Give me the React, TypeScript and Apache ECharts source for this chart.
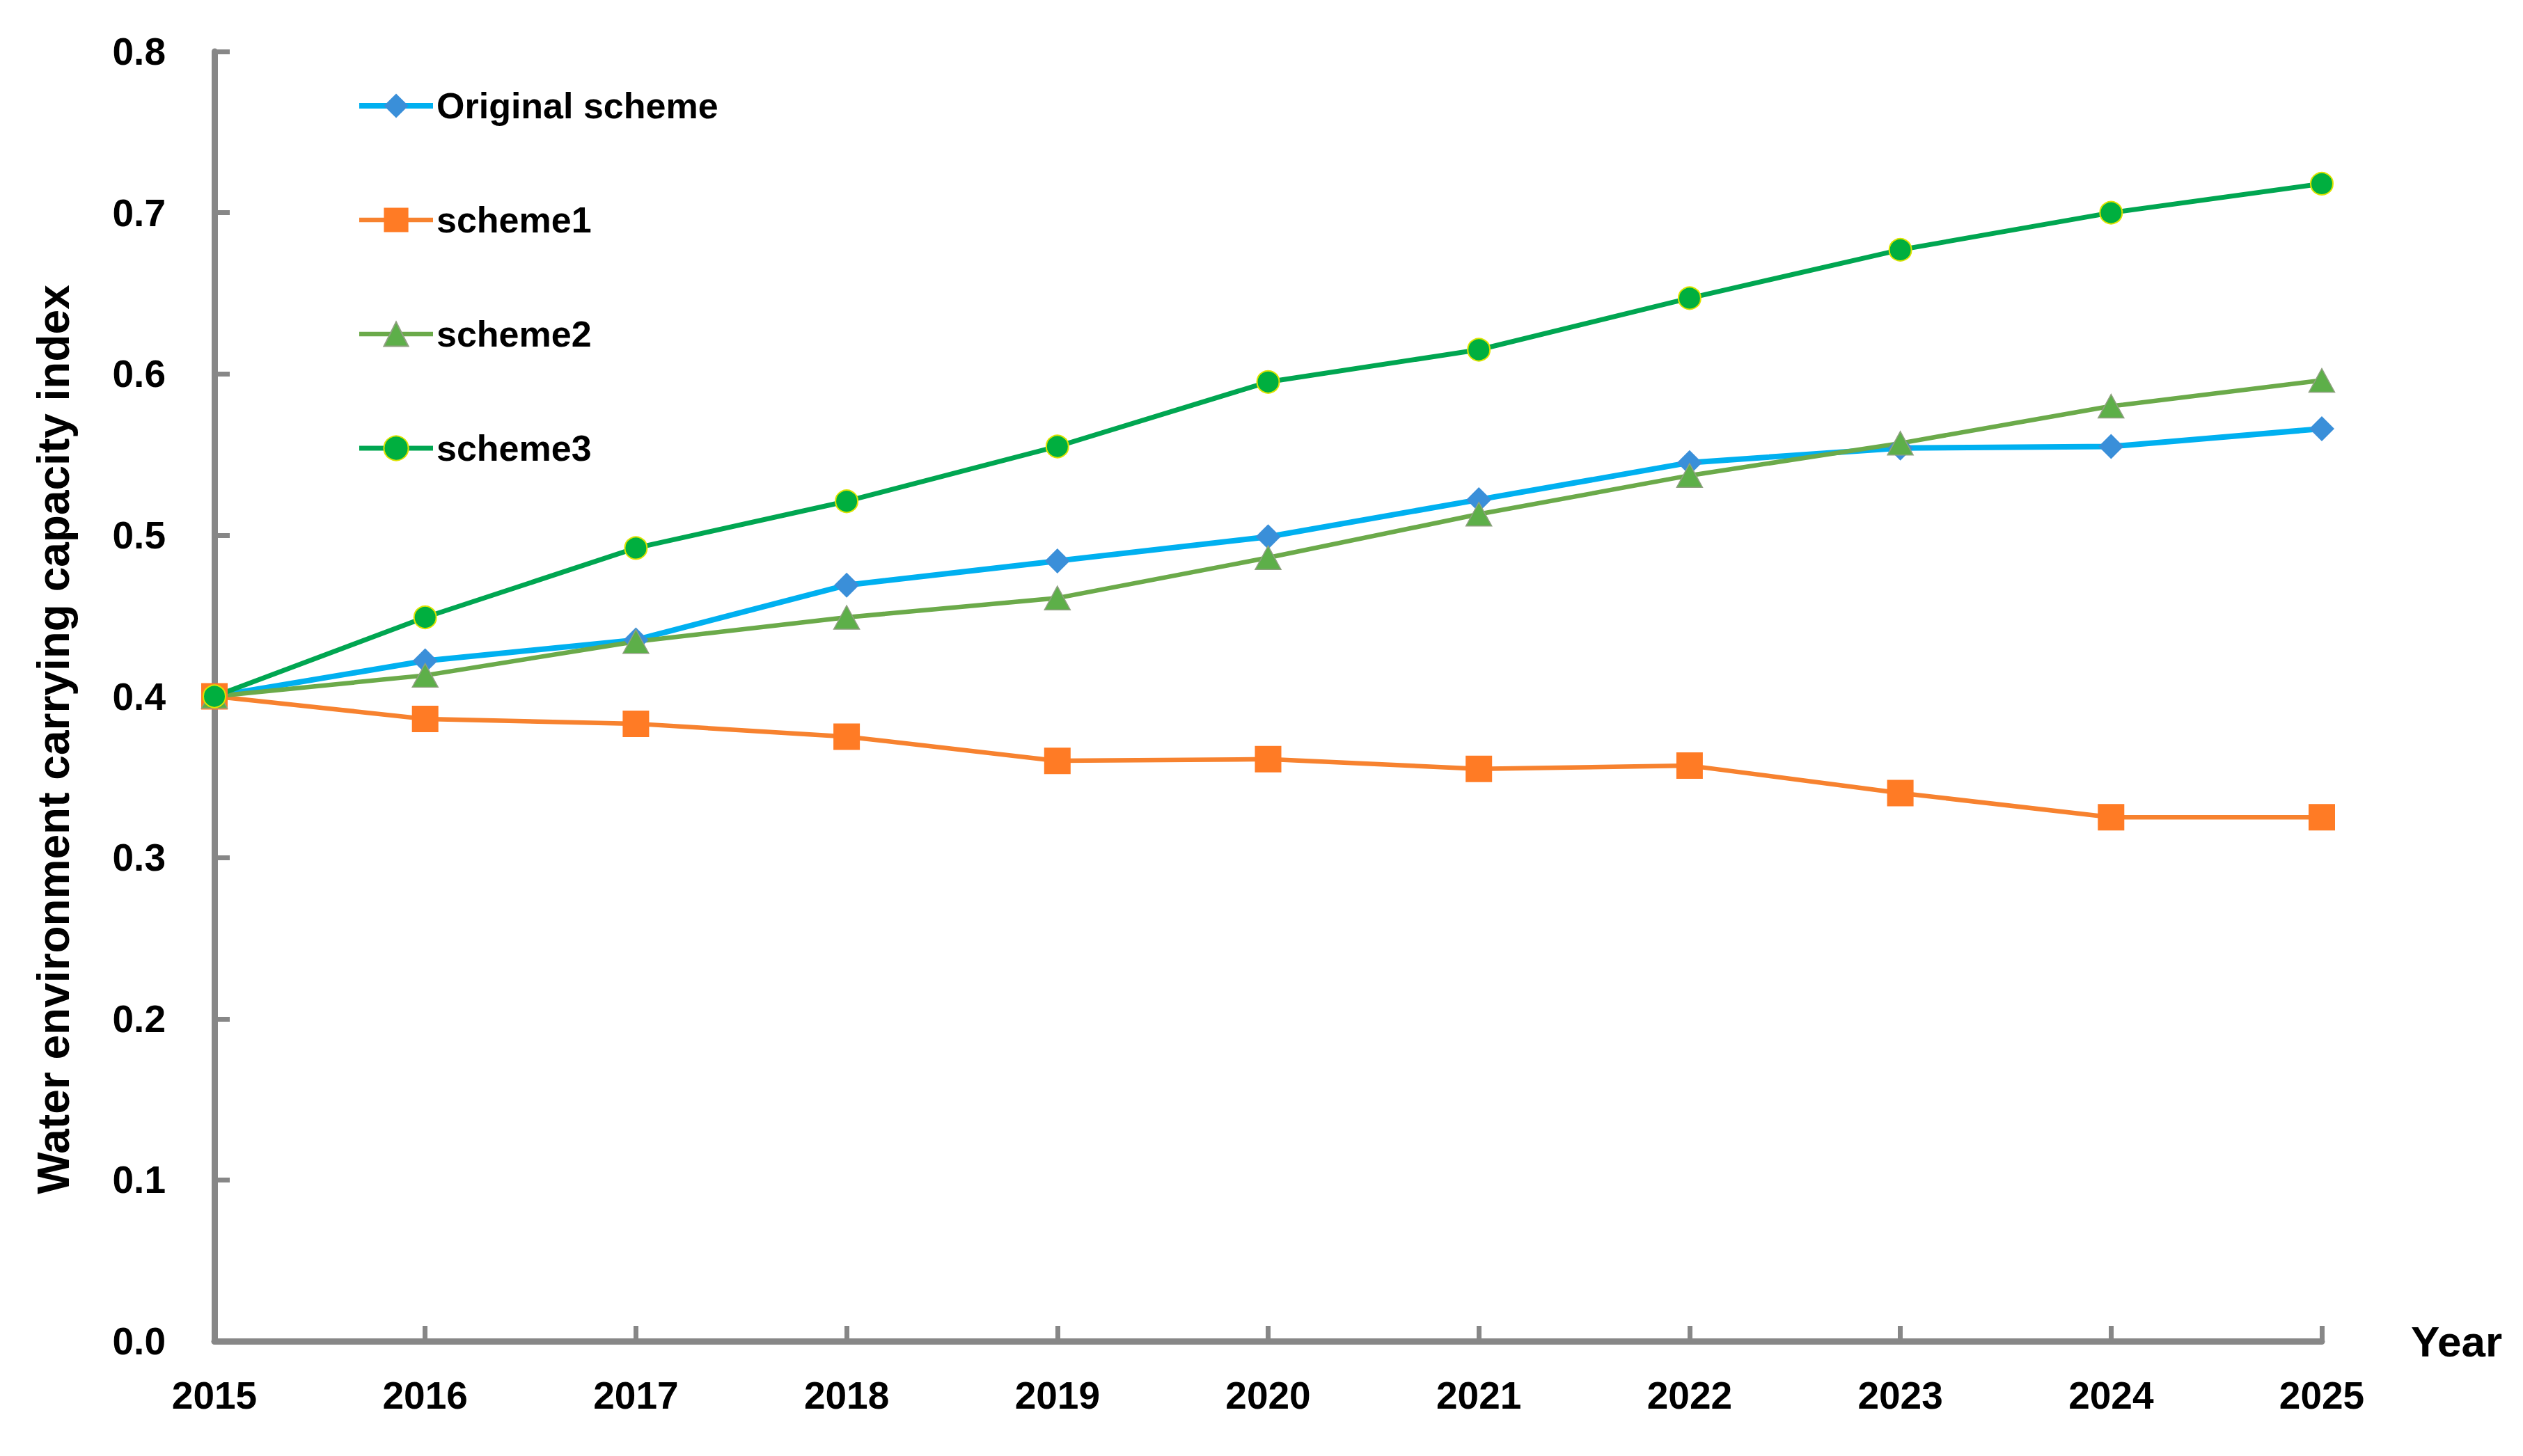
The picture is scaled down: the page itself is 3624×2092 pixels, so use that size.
import React, { useEffect, useRef } from "react";
import * as echarts from "echarts";

const years = ["2015", "2016", "2017", "2018", "2019", "2020", "2021", "2022", "2023", "2024", "2025"];
const originalScheme = [0.400, 0.422, 0.435, 0.469, 0.484, 0.499, 0.522, 0.545, 0.554, 0.555, 0.566];
const scheme1 = [0.400, 0.386, 0.383, 0.375, 0.360, 0.361, 0.355, 0.357, 0.340, 0.325, 0.325];
const scheme2 = [0.400, 0.413, 0.434, 0.449, 0.461, 0.486, 0.513, 0.537, 0.557, 0.580, 0.596];
const scheme3 = [0.400, 0.449, 0.492, 0.521, 0.555, 0.595, 0.615, 0.647, 0.677, 0.700, 0.718];
const seriesNames = ["Original scheme", "scheme1", "scheme2", "scheme3"];

const FONT = "Liberation Sans, Arial, sans-serif";
const AXIS_COLOR = "#878787";
const LINE_COLORS = ["#00B0F0", "#F7822F", "#6BAA4A", "#00A651"];
const LINE_WIDTHS = [8, 6.5, 6.5, 7];

export default function App() {
  const ref = useRef<HTMLDivElement>(null);

  useEffect(() => {
    if (!ref.current) return;
    const chart = echarts.init(ref.current, null, { renderer: "svg" });
    const option = {
      animation: false,
      backgroundColor: "#ffffff",
      grid: { left: 308, right: 289, top: 74, bottom: 165, containLabel: false },
      legend: {
        orient: "vertical",
        left: 507,
        top: 117,
        itemWidth: 106,
        itemHeight: 44,
        itemGap: 104,
        data: seriesNames.map((n, i) => ({
          name: n,
          lineStyle: { width: LINE_WIDTHS[i], color: LINE_COLORS[i] },
        })),
        textStyle: { fontFamily: FONT, fontWeight: "bold", fontSize: 52, color: "#000", lineHeight: 60 },
      },
      xAxis: {
        type: "category",
        data: years,
        boundaryGap: false,
        name: "Year",
        nameLocation: "end",
        nameGap: 128,
        nameTextStyle: { fontFamily: FONT, fontWeight: "bold", fontSize: 62, color: "#000", padding: [0, 0, 14, 0] },
        axisLine: { lineStyle: { color: AXIS_COLOR, width: 9 } },
        axisTick: { show: true, inside: true, length: 22, alignWithLabel: true, lineStyle: { color: AXIS_COLOR, width: 7 } },
        axisLabel: { interval: 0, margin: 50, fontFamily: FONT, fontWeight: "bold", fontSize: 55, color: "#000" },
        splitLine: { show: false },
      },
      yAxis: {
        type: "value",
        min: 0,
        max: 0.8,
        interval: 0.1,
        name: "Water environment carrying capacity index",
        nameLocation: "middle",
        nameRotate: 90,
        nameGap: 199,
        nameTextStyle: { fontFamily: FONT, fontWeight: "bold", fontSize: 64, color: "#000", padding: [0, 124, 0, 0] },
        axisLine: { show: true, lineStyle: { color: AXIS_COLOR, width: 9 } },
        axisTick: { show: true, inside: true, length: 22, lineStyle: { color: AXIS_COLOR, width: 7 } },
        axisLabel: {
          margin: 70,
          fontFamily: FONT,
          fontWeight: "bold",
          fontSize: 55,
          color: "#000",
          formatter: (v: number) => v.toFixed(1),
        },
        splitLine: { show: false },
      },
      series: [
        {
          name: seriesNames[0],
          type: "line",
          data: originalScheme,
          symbol: "diamond",
          symbolSize: 36,
          lineStyle: { color: LINE_COLORS[0], width: LINE_WIDTHS[0] },
          itemStyle: { color: "#3A8FD9" },
        },
        {
          name: seriesNames[1],
          type: "line",
          data: scheme1,
          symbol: "rect",
          symbolSize: 38,
          lineStyle: { color: LINE_COLORS[1], width: LINE_WIDTHS[1] },
          itemStyle: { color: "#FF7B25" },
        },
        {
          name: seriesNames[2],
          type: "line",
          data: scheme2,
          symbol: "triangle",
          symbolSize: [37, 34],
          lineStyle: { color: LINE_COLORS[2], width: LINE_WIDTHS[2] },
          itemStyle: { color: "#5DAF49", borderColor: "#8FA080", borderWidth: 1.5 },
        },
        {
          name: seriesNames[3],
          type: "line",
          data: scheme3,
          symbol: "circle",
          symbolSize: 32,
          lineStyle: { color: LINE_COLORS[3], width: LINE_WIDTHS[3] },
          itemStyle: { color: "#00AF3F", borderColor: "#DDE300", borderWidth: 2 },
        },
      ],
    };
    chart.setOption(option as any);
    return () => chart.dispose();
  }, []);

  return (
    <div
      ref={ref}
      style={{ position: "fixed", left: 0, top: 0, width: 3624, height: 2092, background: "#fff" }}
    />
  );
}
